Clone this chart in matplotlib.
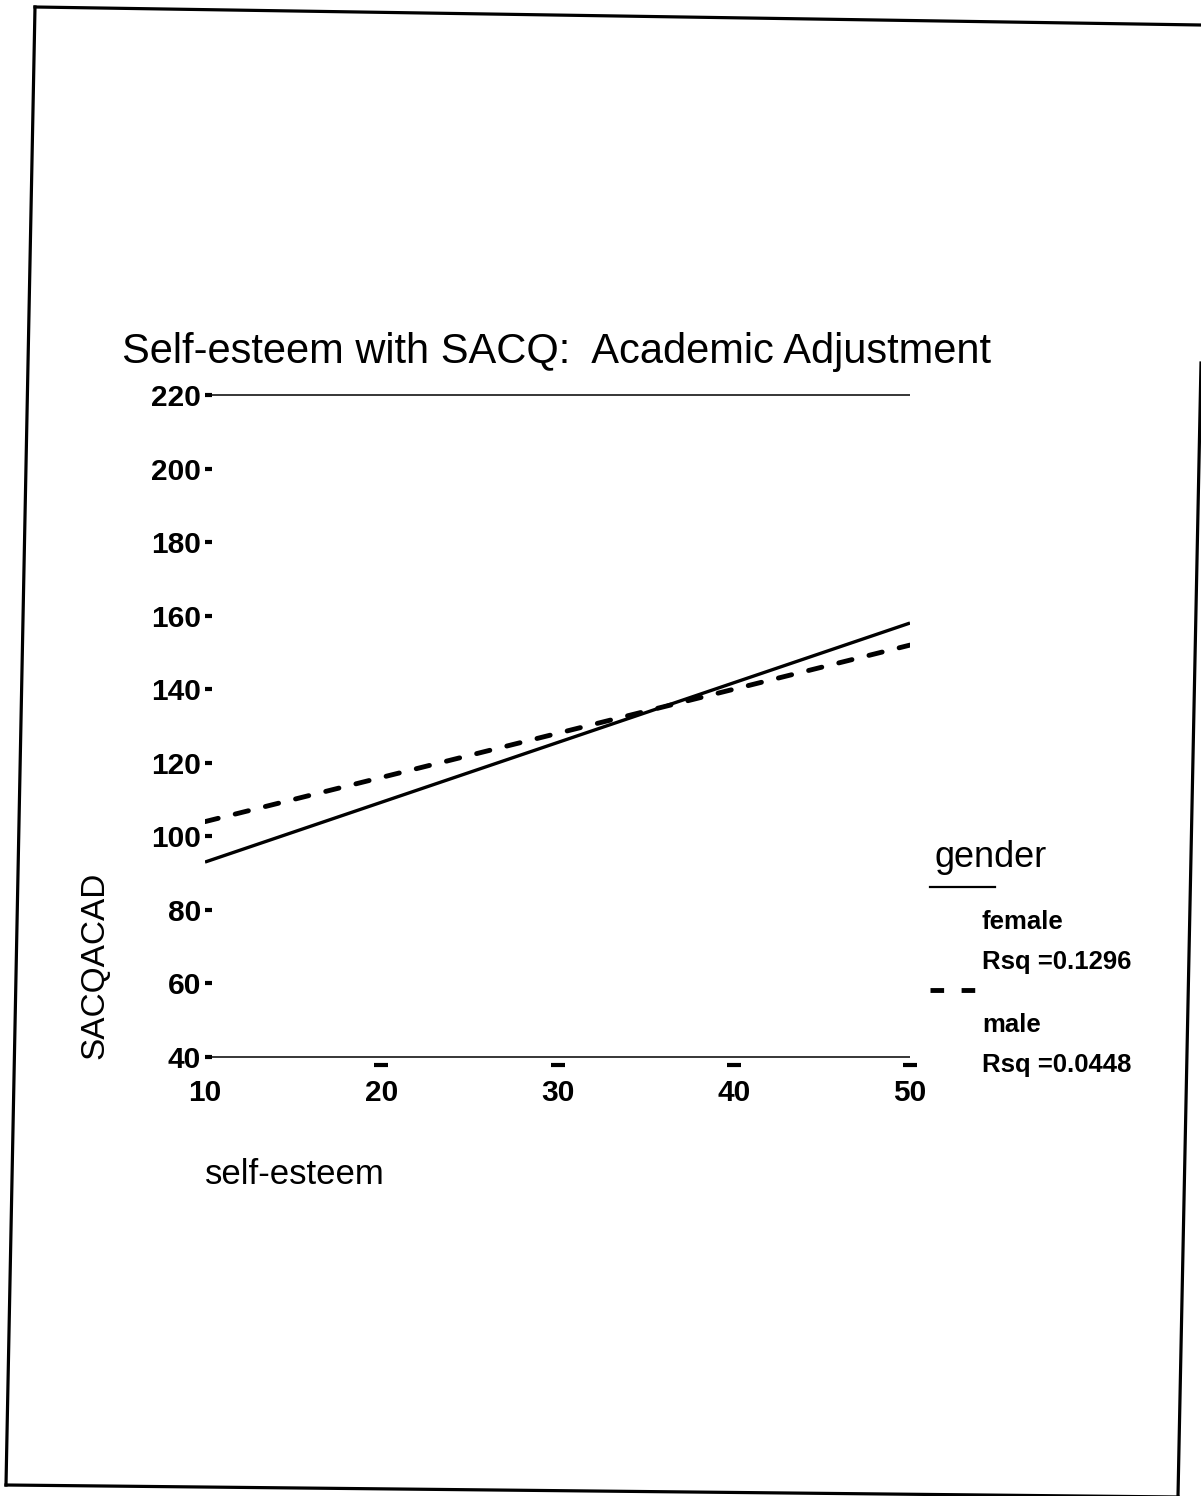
"""
plot.py - fit lines of SACQ academic adjustment on self-esteem, by gender.
"""

import matplotlib
matplotlib.use('Agg')
import matplotlib.pyplot as plt
from matplotlib.lines import Line2D
from matplotlib.transforms import offset_copy

# fitted lines (endpoints of the linear fit over the self-esteem range)
SELF_ESTEEM = [10, 50]
FEMALE_FIT = [93, 158]
MALE_FIT = [104, 152]
GROUPS = ['female', 'male']
RSQ = [0.1296, 0.0448]

X_TICKS = [10, 20, 30, 40, 50]
Y_TICKS = [40, 60, 80, 100, 120, 140, 160, 180, 200, 220]

TITLE = 'Self-esteem with SACQ:  Academic Adjustment'
W, H = 1201, 1496

plt.rcParams['font.family'] = ['Liberation Sans', 'DejaVu Sans']

fig = plt.figure(figsize=(W / 100, H / 100), dpi=100)
fig.patch.set_facecolor('white')


def px(x, y):
    """pixel (top-left origin) -> figure fraction"""
    return x / W, 1 - y / H


def fig_line(xs, ys, **kw):
    fx = [x / W for x in xs]
    fy = [1 - y / H for y in ys]
    fig.add_artist(Line2D(fx, fy, transform=fig.transFigure, color='black', **kw))


# scanned page border (slightly rotated)
fig_line([35, 1201], [7, 25], lw=2.3)
fig_line([35, 6], [7, 1485], lw=2.3)
fig_line([6, 1178], [1485, 1497], lw=2.3)
fig_line([1201, 1178], [363, 1496], lw=2.3)

# axes box: x=10 at px 205, x=50 at px 910; y=220 at px 395, y=40 at px 1057
ax = fig.add_axes([205 / W, 1 - 1057 / H, 705 / W, 662 / H])
ax.set_xlim(X_TICKS[0], X_TICKS[-1])
ax.set_ylim(Y_TICKS[0], Y_TICKS[-1])
for s in ax.spines.values():
    s.set_visible(False)

ax.hlines([Y_TICKS[-1], Y_TICKS[0]], X_TICKS[0], X_TICKS[-1], color='black',
          lw=1.1, clip_on=False)

ax.plot(SELF_ESTEEM, FEMALE_FIT, color='black', lw=2.4, solid_capstyle='butt')
ax.plot(SELF_ESTEEM, MALE_FIT, color='black', lw=3.5, linestyle=(0, (2.8, 3.6)),
        dash_capstyle='round')

ax.set_yticks(Y_TICKS)
ax.set_xticks(X_TICKS)
ax.tick_params(axis='y', direction='in', length=5, width=3, pad=3)
ax.tick_params(axis='x', length=0, pad=16)
for lab in ax.get_xticklabels() + ax.get_yticklabels():
    lab.set_fontsize(21.5)
    lab.set_fontweight('bold')

# small dashes below the bottom line at the x ticks
tick_tr = offset_copy(ax.transData, fig=fig, x=0, y=-8, units='dots')
ax.plot(X_TICKS[1:], [Y_TICKS[0]] * (len(X_TICKS) - 1), linestyle='none',
        marker='_', markersize=10, markeredgewidth=3, color='black',
        transform=tick_tr, clip_on=False)

ax.set_ylabel('SACQACAD', fontsize=24, va='center')
ax.yaxis.set_label_coords(-0.156, 0.139)
ax.set_xlabel('self-esteem', fontsize=25, ha='left', va='center')
ax.xaxis.set_label_coords(0.0, -0.178)

# title
fig.text(*px(122, 352), TITLE, fontsize=30, ha='left', va='center')

# legend
fig.text(*px(935, 858), 'gender', fontsize=26, ha='left', va='center')
fig_line([930, 995], [887, 887], lw=1.6)
fig_line([930, 977], [990, 990], lw=3.5, linestyle=(0, (2.8, 3.6)))
for i, (g, r) in enumerate(zip(GROUPS, RSQ)):
    y0 = 922 + i * 103
    fig.text(*px(982, y0), g, fontsize=18.5, fontweight='bold', ha='left', va='center')
    fig.text(*px(982, y0 + 40), f'Rsq ={r:.4f}', fontsize=18.5, fontweight='bold',
             ha='left', va='center')

fig.savefig('out.png', dpi=100)
